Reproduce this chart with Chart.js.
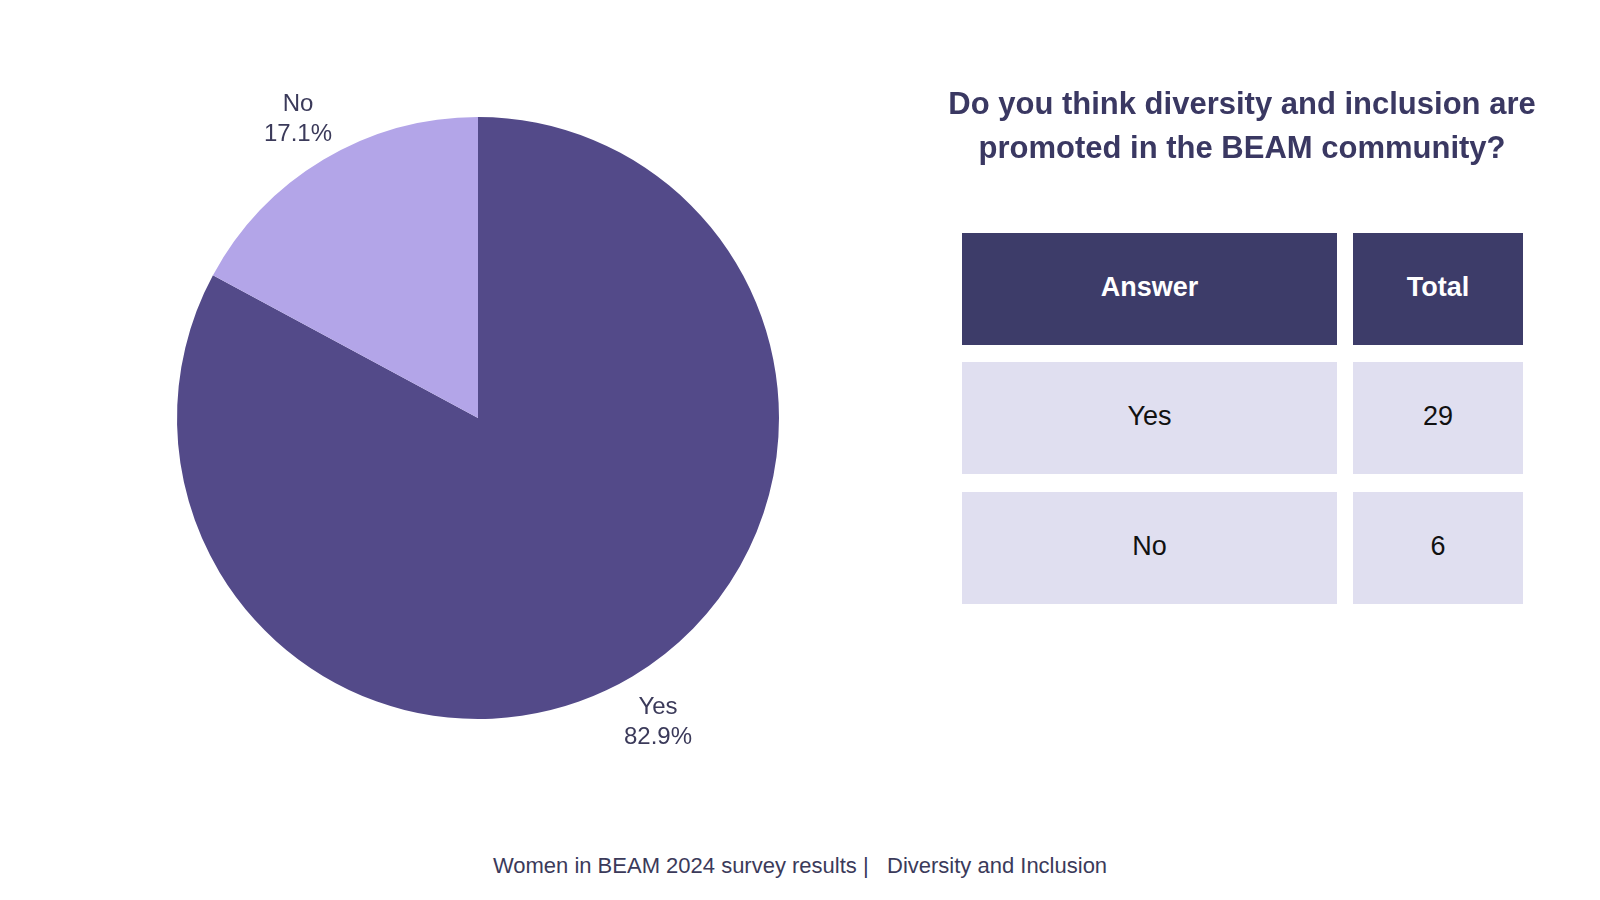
<!DOCTYPE html>
<html>
<head>
<meta charset="utf-8">
<script src="https://cdn.jsdelivr.net/npm/chart.js@4"></script>
<style>
  html, body { margin: 0; padding: 0; background: #fff; }
  body { width: 1600px; height: 900px; position: relative; overflow: hidden; font-family: "Liberation Sans", Arial, sans-serif; }
  #pieBox { position: absolute; left: 0; top: 0; width: 956px; height: 836px; }
  #title { position: absolute; left: 900px; width: 684px; top: 82px; text-align: center; color: #3a3862; font-weight: bold; font-size: 31px; line-height: 44px; }
  .cell { position: absolute; display: flex; align-items: center; justify-content: center; font-size: 27px; box-sizing: border-box; padding-bottom: 4px; }
  .head { background: #3d3c69; color: #fff; font-weight: bold; }
  .body { background: #e0dff0; color: #111; }
  #footer { position: absolute; left: 0; width: 1600px; top: 853px; text-align: center; color: #3b3a5a; font-size: 22px; white-space: pre; }
</style>
</head>
<body>
<div id="pieBox"><canvas id="answersPie"></canvas></div>
<div id="title">Do you think diversity and inclusion are<br>promoted in the BEAM community?</div>
<div id="table"></div>
<div id="footer">Women in BEAM 2024 survey results |   Diversity and Inclusion</div>
<script>
const answers = ['Yes', 'No'];
const totals = [29, 6];
const tableHeaders = ['Answer', 'Total'];
const sliceColors = ['#534a89', '#b3a5e8'];

// etiquetas fora da pizza: nome + percentual
const outsideLabels = {
  id: 'outsideLabels',
  afterDatasetsDraw(chart) {
    const ctx = chart.ctx;
    const sum = totals.reduce((a, b) => a + b, 0);
    chart.getDatasetMeta(0).data.forEach((arc, i) => {
      const mid = (arc.startAngle + arc.endAngle) / 2;
      const r = arc.outerRadius + 50;
      const x = arc.x + Math.cos(mid) * r;
      const y = arc.y + Math.sin(mid) * r + 3;
      ctx.save();
      ctx.fillStyle = '#3b3a5a';
      ctx.font = '24px "Liberation Sans", Arial, sans-serif';
      ctx.textAlign = 'center';
      ctx.textBaseline = 'middle';
      ctx.fillText(answers[i], x, y - 15);
      ctx.fillText((totals[i] / sum * 100).toFixed(1) + '%', x, y + 15);
      ctx.restore();
    });
  }
};

new Chart(document.getElementById('answersPie').getContext('2d'), {
  type: 'pie',
  data: {
    labels: answers,
    datasets: [{
      data: totals,
      backgroundColor: sliceColors,
      borderWidth: 0
    }]
  },
  options: {
    responsive: true,
    maintainAspectRatio: false,
    animation: false,
    layout: { padding: 117 },
    plugins: {
      legend: { display: false },
      tooltip: { enabled: false }
    }
  },
  plugins: [outsideLabels]
});

// tabela ao lado
const table = document.getElementById('table');
const colX = [962, 1353];
const colW = [375, 170];
const rowY = [233, 362, 492];
const rowH = 112;
function addCell(text, cls, col, row) {
  const d = document.createElement('div');
  d.className = 'cell ' + cls;
  d.style.left = colX[col] + 'px';
  d.style.width = colW[col] + 'px';
  d.style.top = rowY[row] + 'px';
  d.style.height = rowH + 'px';
  d.textContent = text;
  table.appendChild(d);
}
tableHeaders.forEach((h, c) => addCell(h, 'head', c, 0));
answers.forEach((a, i) => {
  addCell(a, 'body', 0, i + 1);
  addCell(String(totals[i]), 'body', 1, i + 1);
});
</script>
</body>
</html>
